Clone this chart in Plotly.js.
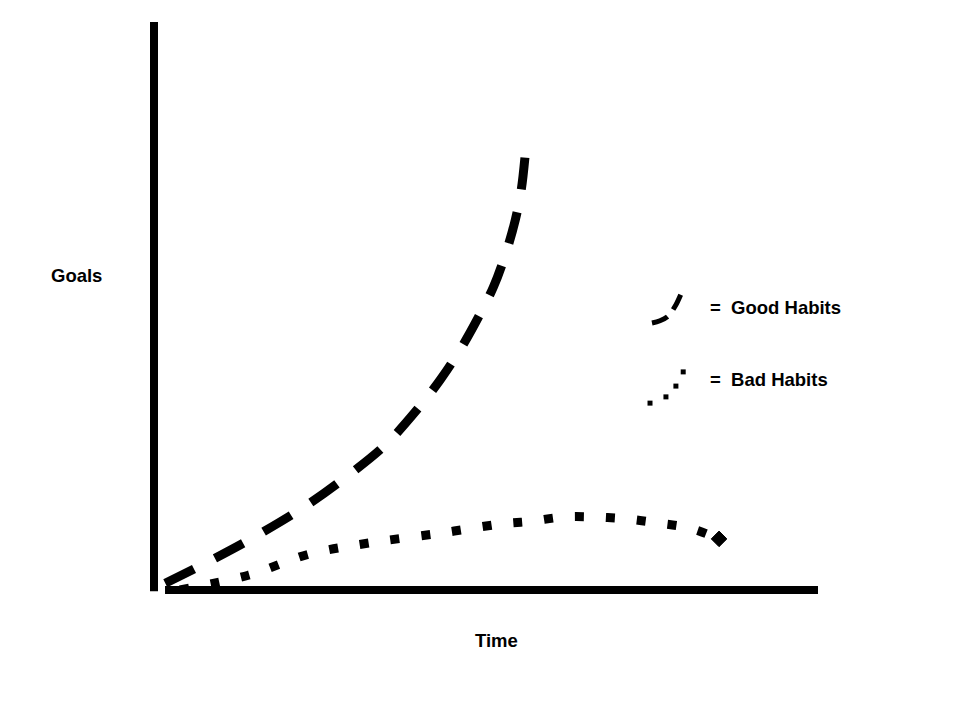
<!DOCTYPE html>
<html>
<head>
<meta charset="utf-8">
<script src="https://cdn.plot.ly/plotly-3.0.1.min.js"></script>
<style>html,body{margin:0;padding:0;background:#fff;}#chart{width:960px;height:720px;}</style>
</head>
<body>
<div id="chart"></div>
<script>
// Good habits curve (Time vs Goals)
const goodTime  = [1.7, 9.2, 16.7, 23.5, 29.5, 34.8, 39.3, 43.1, 46.1, 48.8, 51.1, 52.9, 54.4, 55.3, 55.9];
const goodGoals = [1.2, 5.6, 10.4, 15.3, 20.4, 25.5, 31.3, 37.0, 42.3, 47.9, 53.3, 59.0, 65.1, 70.4, 76.6];
// Bad habits curve
const badTime  = [3.9, 14.2, 23.3, 32.5, 43.1, 52.1, 56.8, 61.6, 66.4, 71.2, 75.9, 80.7, 85.1];
const badGoals = [0.0, 2.6, 6.3, 8.3, 10.0, 11.6, 12.1, 12.85, 12.85, 12.5, 11.8, 10.9, 9.0];
// Legend key samples
const goodKeyX = [75.0, 76.2, 77.4, 78.5, 79.5];
const goodKeyY = [47.0, 47.4, 48.2, 50.0, 52.5];
const badKeyX = [74.7, 77.1, 78.6, 79.7];
const badKeyY = [32.9, 34.0, 35.9, 38.4];
// Labels
const legendLabels = ["=&nbsp;&nbsp;Good Habits", "=&nbsp;&nbsp;Bad Habits"];
const xLabel = "Time";
const yLabel = "Goals";

const font = {family: "Liberation Sans, Arial, sans-serif", size: 18.5, color: "#000", weight: 700};

// only the end point of the bad-habits curve carries a marker
const badMarkerSize = badTime.map((_, i) => i === badTime.length - 1 ? 12 : 0);

const traces = [
  {x: goodTime, y: goodGoals, mode: "lines", line: {color: "#000", width: 9, dash: "32px,23.5px", shape: "spline"}, hoverinfo: "skip", cliponaxis: false},
  {x: badTime, y: badGoals, mode: "lines+markers", line: {color: "#000", width: 9, dash: "9px,22px", shape: "spline"},
   marker: {color: "#000", opacity: 1, size: badMarkerSize, symbol: "diamond", line: {width: 1, color: "#000"}}, hoverinfo: "skip", cliponaxis: false},
  {x: goodKeyX, y: goodKeyY, mode: "lines", line: {color: "#000", width: 5, dash: "17px,9px", shape: "spline"}, hoverinfo: "skip"},
  {x: badKeyX, y: badKeyY, mode: "markers", marker: {color: "#000", size: 5, symbol: "square"}, hoverinfo: "skip"}
];

const layout = {
  width: 960, height: 720,
  margin: {l: 154, r: 142, t: 22, b: 130},
  paper_bgcolor: "#fff", plot_bgcolor: "#fff",
  showlegend: false,
  xaxis: {range: [0, 100], visible: false, showgrid: false, zeroline: false, fixedrange: true},
  yaxis: {range: [0, 100], visible: false, showgrid: false, zeroline: false, fixedrange: true},
  shapes: [
    {type: "line", xref: "paper", yref: "paper", x0: 0, x1: 0, y0: -0.002, y1: 1, line: {color: "#000", width: 8}},
    {type: "line", xref: "paper", yref: "paper", x0: 0.0166, x1: 1, y0: 0, y1: 0, line: {color: "#000", width: 8}}
  ],
  annotations: [
    {xref: "paper", yref: "paper", x: 0.834, y: (590 - 307) / 568, xanchor: "left", yanchor: "middle", text: legendLabels[0], showarrow: false, font: font},
    {xref: "paper", yref: "paper", x: 0.834, y: (590 - 379) / 568, xanchor: "left", yanchor: "middle", text: legendLabels[1], showarrow: false, font: font},
    {xref: "paper", yref: "paper", x: (76 - 154) / 664, y: (590 - 275) / 568, xanchor: "center", yanchor: "middle", text: yLabel, showarrow: false, font: font},
    {xref: "paper", yref: "paper", x: (496 - 154) / 664, y: (590 - 640) / 568, xanchor: "center", yanchor: "middle", text: xLabel, showarrow: false, font: font}
  ]
};

Plotly.newPlot("chart", traces, layout, {staticPlot: true, displayModeBar: false});
</script>
</body>
</html>
